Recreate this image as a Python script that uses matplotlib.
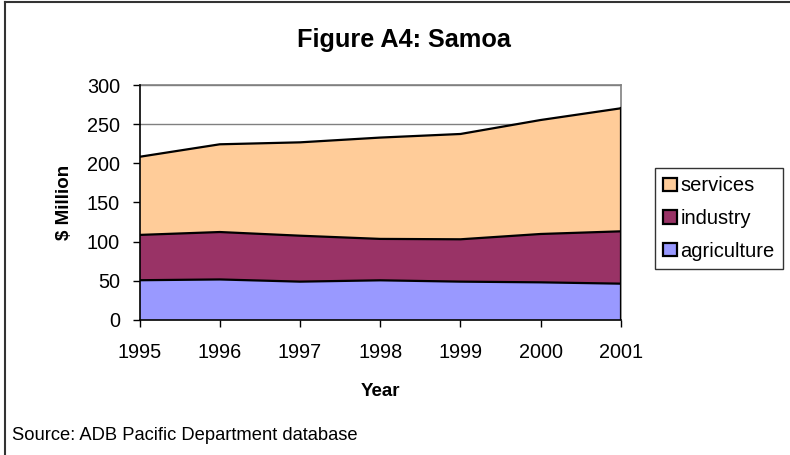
import matplotlib
matplotlib.use("Agg")
import matplotlib.pyplot as plt
from matplotlib.lines import Line2D
from matplotlib.patches import Patch
import numpy as np

years = [1995, 1996, 1997, 1998, 1999, 2000, 2001]
agriculture = [50.5, 51.5, 48.7, 50.4, 48.7, 47.8, 46.1]
industry = [58.0, 60.7, 58.8, 53.0, 54.2, 61.9, 67.0]
services = [100.0, 112.3, 119.5, 129.7, 134.8, 145.9, 157.5]
series_names = ["agriculture", "industry", "services"]
colors = ["#9999FF", "#993366", "#FFCC99"]

plt.rcParams['font.family'] = ['Liberation Sans', 'DejaVu Sans']

fig = plt.figure(figsize=(7.9, 4.55), dpi=100)
ax = fig.add_axes([0.1766, 0.2974, 0.786 - 0.1766, 0.8125 - 0.2974])

x = np.array(years)
stack = np.vstack([agriculture, industry, services])
cum = np.cumsum(stack, axis=0)
bottoms = np.vstack([np.zeros(len(x)), cum[:-1]])
for i in range(3):
    ax.fill_between(x, bottoms[i], cum[i], facecolor=colors[i], edgecolor='none', zorder=2)
    ax.plot(x, cum[i], color='black', lw=1.6, zorder=3, solid_joinstyle='round')
ax.plot([x[-1], x[-1]], [0, cum[-1][-1]], color='black', lw=1.6, zorder=3)

ax.set_xlim(1995, 2001)
ax.set_ylim(0, 300)
ax.set_yticks(np.arange(0, 301, 50))
ax.set_xticks(years)
ax.yaxis.grid(True, color='#808080', lw=1.0, zorder=1)
ax.set_axisbelow(True)
for s in ['top', 'right']:
    ax.spines[s].set_color('#808080')
    ax.spines[s].set_linewidth(1.2)
for s in ['left', 'bottom']:
    ax.spines[s].set_color('black')
    ax.spines[s].set_linewidth(1.2)
    ax.spines[s].set_zorder(4)
ax.tick_params(axis='both', direction='out', length=5, width=1, colors='black', labelsize=14.3)
ax.tick_params(axis='x', pad=12)
ax.tick_params(axis='y', pad=9)

ax.set_ylabel('$ Million', fontsize=13.5, fontweight='bold', labelpad=10)
ax.set_xlabel('Year', fontsize=13.5, fontweight='bold', labelpad=15)

fig.text(0.5108, 0.911, 'Figure A4: Samoa', ha='center', va='center', fontsize=18.2, fontweight='bold')
fig.text(0.015, 0.042, 'Source: ADB Pacific Department database', ha='left', va='center', fontsize=13.2)

leg_handles = [Patch(facecolor=colors[i], edgecolor='black', lw=1.6) for i in [2, 1, 0]]
leg = fig.legend(leg_handles, [series_names[i] for i in [2, 1, 0]],
                 loc='upper left', bbox_to_anchor=(655 / 790, 1 - 168 / 455),
                 fontsize=14.5, frameon=True, fancybox=False, handlelength=0.65, handleheight=0.65,
                 handletextpad=0.2, labelspacing=0.68, borderpad=0.42, borderaxespad=0)
leg.get_frame().set_edgecolor('black')
leg.get_frame().set_linewidth(1.0)

fig.add_artist(Line2D([4.5 / 790, 4.5 / 790], [0, 1 - 1.5 / 455], transform=fig.transFigure, color='#333333', lw=1.5))
fig.add_artist(Line2D([4.5 / 790, 1], [1 - 1.5 / 455, 1 - 1.5 / 455], transform=fig.transFigure, color='#333333', lw=1.5))

fig.savefig('out.png', dpi=100)
